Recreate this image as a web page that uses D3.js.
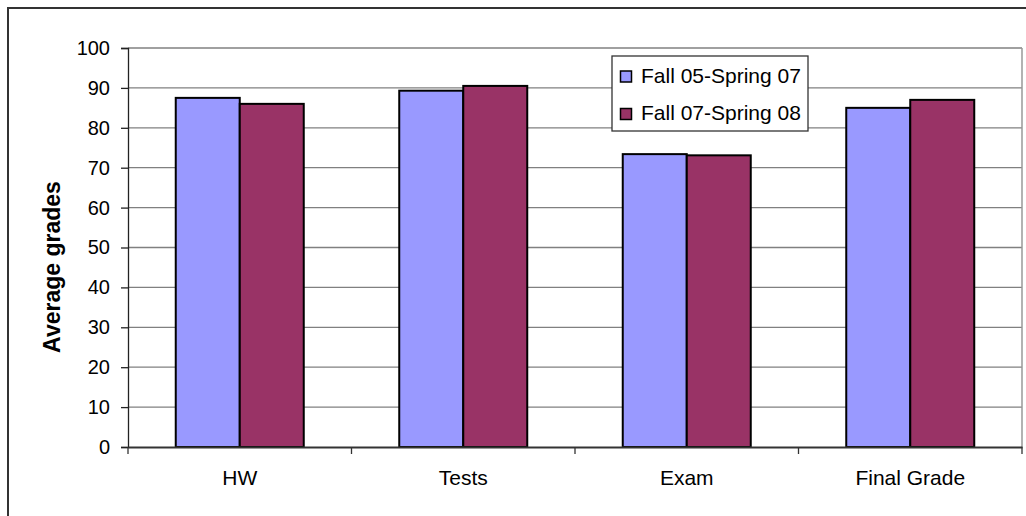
<!DOCTYPE html>
<meta charset="utf-8">
<style>
body { margin: 0; background: white; }
svg { font-family: Arial, "Liberation Sans", sans-serif; }
</style>
<body>
<script src="https://d3js.org/d3.v7.min.js"></script>
<script>
// chart values
var categories = ["HW", "Tests", "Exam", "Final Grade"];
var seriesNames = ["Fall 05-Spring 07", "Fall 07-Spring 08"];
var fall05 = [87.5, 89.3, 73.4, 85.0];
var fall07 = [86.0, 90.5, 73.1, 87.0];
var yTicks = [0, 10, 20, 30, 40, 50, 60, 70, 80, 90, 100];
var colors = ["#9999FF", "#993366"];

var W = 1026, H = 516;
var plot = {left: 128, right: 1022, top: 48, bottom: 447};

var svg = d3.select("body").append("svg")
    .attr("width", W)
    .attr("height", H);

// outer frame (right / bottom run off the picture)
svg.append("rect")
    .attr("x", 8).attr("y", 8)
    .attr("width", 1040).attr("height", 540)
    .attr("fill", "none")
    .attr("stroke", "#333")
    .attr("stroke-width", 2);

var x0 = d3.scaleBand()
    .domain(categories)
    .range([plot.left, plot.right]);

var x1 = d3.scaleBand()
    .domain(seriesNames)
    .range([0, x0.bandwidth()])
    .paddingOuter(0.746);

var y = d3.scaleLinear()
    .domain([0, 100])
    .range([plot.bottom, plot.top]);

// gridlines
svg.append("g").selectAll("line")
  .data(yTicks.slice(1))
  .enter().append("line")
    .attr("x1", plot.left).attr("x2", plot.right)
    .attr("y1", function(d) { return y(d); })
    .attr("y2", function(d) { return y(d); })
    .attr("stroke", "#808080")
    .attr("stroke-width", 1.3);

// right border of plot area
svg.append("line")
    .attr("x1", plot.right).attr("x2", plot.right)
    .attr("y1", plot.top).attr("y2", plot.bottom)
    .attr("stroke", "#999")
    .attr("stroke-width", 1.5);

// bars
var rows = categories.map(function(c, i) {
  return {cat: c, vals: [fall05[i], fall07[i]]};
});

var groups = svg.append("g").selectAll("g")
  .data(rows)
  .enter().append("g")
    .attr("transform", function(d) { return "translate(" + x0(d.cat) + ",0)"; });

groups.selectAll("rect")
  .data(function(d) { return d.vals.map(function(v, j) { return {s: seriesNames[j], v: v, j: j}; }); })
  .enter().append("rect")
    .attr("x", function(d) { return x1(d.s); })
    .attr("y", function(d) { return y(d.v); })
    .attr("width", x1.bandwidth())
    .attr("height", function(d) { return y(0) - y(d.v); })
    .attr("fill", function(d) { return colors[d.j]; })
    .attr("stroke", "#000")
    .attr("stroke-width", 2);

// y axis
var yAxis = svg.append("g")
    .attr("transform", "translate(" + plot.left + ",0)")
    .call(d3.axisLeft(y).tickValues(yTicks).tickSize(7).tickPadding(11));
yAxis.select(".domain").attr("stroke", "#222").attr("stroke-width", 1.3);
yAxis.selectAll(".tick line").attr("stroke", "#222").attr("stroke-width", 1.3);
yAxis.selectAll("text")
    .attr("font-size", "20px")
    .attr("font-family", "Arial, 'Liberation Sans', sans-serif")
    .attr("fill", "#000");

// x axis
var xAxis = svg.append("g")
    .attr("transform", "translate(0," + plot.bottom + ")")
    .call(d3.axisBottom(x0).tickSize(0).tickPadding(23));
xAxis.select(".domain").attr("stroke", "#333").attr("stroke-width", 2);
xAxis.selectAll("text")
    .attr("font-size", "21px")
    .attr("font-family", "Arial, 'Liberation Sans', sans-serif")
    .attr("fill", "#000");

// category boundary ticks
var bounds = categories.map(function(c) { return x0(c); }).concat([plot.right]);
svg.append("g").selectAll("line")
  .data(bounds)
  .enter().append("line")
    .attr("x1", function(d) { return d; }).attr("x2", function(d) { return d; })
    .attr("y1", plot.bottom).attr("y2", plot.bottom + 7)
    .attr("stroke", "#333")
    .attr("stroke-width", 1.3);

// y title
svg.append("text")
    .attr("transform", "translate(60,267) rotate(-90)")
    .attr("text-anchor", "middle")
    .attr("font-size", "23px")
    .attr("font-weight", "bold")
    .text("Average grades");

// legend
var legend = svg.append("g").attr("transform", "translate(612,56)");
legend.append("rect")
    .attr("width", 196).attr("height", 75)
    .attr("fill", "white")
    .attr("stroke", "#333")
    .attr("stroke-width", 1.3);

var items = legend.selectAll("g.item")
  .data(seriesNames)
  .enter().append("g")
    .attr("class", "item")
    .attr("transform", function(d, i) { return "translate(0," + (i * 37.5) + ")"; });

items.append("rect")
    .attr("x", 8.5).attr("y", 15)
    .attr("width", 11).attr("height", 11)
    .attr("fill", function(d, i) { return colors[i]; })
    .attr("stroke", "#000")
    .attr("stroke-width", 1.5);

items.append("text")
    .attr("x", 29).attr("y", 26.5)
    .attr("font-size", "21px")
    .text(function(d) { return d; });
</script>
</body>
